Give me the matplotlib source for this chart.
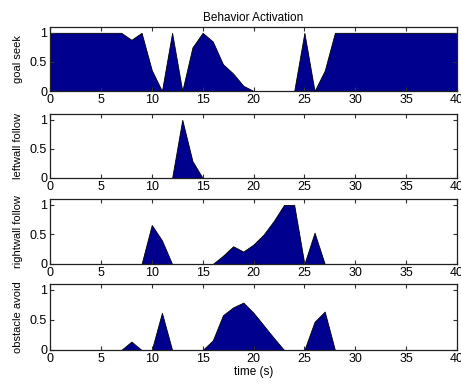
import matplotlib
matplotlib.use("Agg")
import matplotlib.pyplot as plt
import numpy as np

plt.rcParams['font.family'] = ['Liberation Sans', 'DejaVu Sans']

time = np.arange(0, 41)

goal_seek = [1, 1, 1, 1, 1, 1, 1, 1, 0.88, 1, 0.36, 0, 1, 0, 0.75, 1, 0.85, 0.46, 0.3, 0.09,
             0, 0, 0, 0, 0, 1, 0, 0.35, 1, 1, 1, 1, 1, 1, 1, 1, 1, 1, 1, 1, 1]
leftwall_follow = [0]*13 + [1, 0.29] + [0]*26
rightwall_follow = [0, 0, 0, 0, 0, 0, 0, 0, 0, 0, 0.66, 0.4, 0, 0, 0, 0, 0, 0.14, 0.3, 0.21,
                    0.33, 0.5, 0.73, 1, 1, 0, 0.53, 0, 0, 0, 0, 0, 0, 0, 0, 0, 0, 0, 0, 0, 0]
obstacle_avoid = [0, 0, 0, 0, 0, 0, 0, 0, 0.14, 0, 0, 0.62, 0, 0, 0, 0, 0.16, 0.58, 0.71, 0.79,
                  0.62, 0.41, 0.2, 0, 0, 0, 0.47, 0.64, 0, 0, 0, 0, 0, 0, 0, 0, 0, 0, 0, 0, 0]

series = [goal_seek, leftwall_follow, rightwall_follow, obstacle_avoid]
ylabels = ["goal seek", "leftwall follow", "rightwall follow", "obstacle avoid"]
xticks = [0, 5, 10, 15, 20, 25, 30, 35, 40]
yticks = [0, 0.5, 1]
yticklabels = ["0", "0.5", "1"]

fig = plt.figure(figsize=(4.61, 3.85), dpi=100)
W, H = 461, 385
boxes = [(27, 91), (114, 178), (199, 264), (284, 350)]
left, right = 50, 457
fill_color = "#00008F"

for i, (vals, lab, (top, bot)) in enumerate(zip(series, ylabels, boxes)):
    ax = fig.add_axes([left / W, 1 - bot / H, (right - left) / W, (bot - top) / H])
    ax.fill_between(time, vals, 0, facecolor=fill_color, edgecolor="black", linewidth=0.6)
    ax.set_xlim(0, 40)
    ax.set_ylim(0, 1.1)
    ax.set_xticks(xticks)
    ax.set_xticklabels([str(t) for t in xticks])
    ax.set_yticks(yticks)
    ax.set_yticklabels(yticklabels)
    ax.tick_params(direction="in", top=True, right=True, length=3, width=0.8,
                   labelsize=9, pad=2, colors="#303030", labelcolor="black")
    for s in ax.spines.values():
        s.set_linewidth(0.9)
        s.set_color("#202020")
    ax.set_ylabel(lab, fontsize=8, labelpad=5)
    if i == 0:
        ax.set_title("Behavior Activation", fontsize=8.5, pad=4)
    if i == 3:
        ax.set_xlabel("time (s)", fontsize=8.5, labelpad=1)

fig.savefig("out.png", dpi=100)
